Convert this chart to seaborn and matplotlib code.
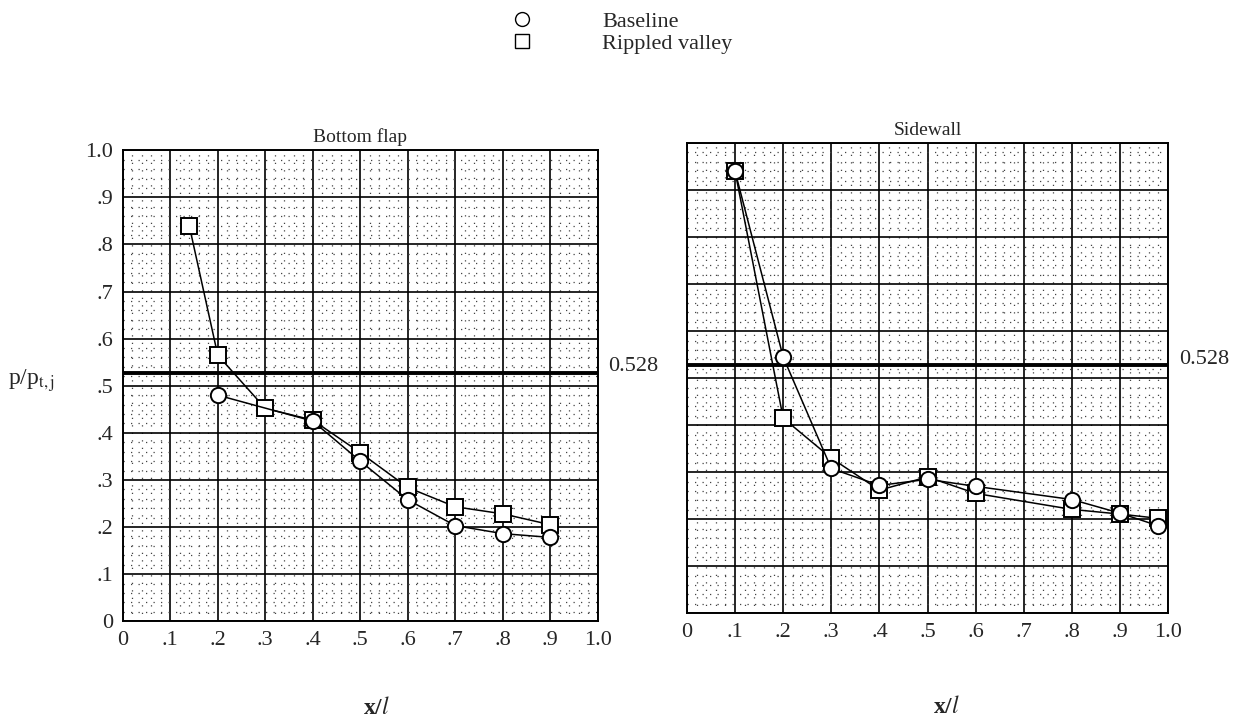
import pandas as pd
import matplotlib.pyplot as plt
from matplotlib.ticker import MultipleLocator
from matplotlib.lines import Line2D
import seaborn as sns

# Bottom flap data
flap_x_base = [0.2, 0.4, 0.5, 0.6, 0.7, 0.8, 0.9]
flap_base = [0.48, 0.425, 0.34, 0.258, 0.203, 0.186, 0.178]
flap_x_ripple = [0.14, 0.2, 0.3, 0.4, 0.5, 0.6, 0.7, 0.8, 0.9]
flap_ripple = [0.84, 0.565, 0.452, 0.427, 0.358, 0.284, 0.243, 0.228, 0.205]

# Sidewall data
side_x = [0.1, 0.2, 0.3, 0.4, 0.5, 0.6, 0.8, 0.9, 0.98]
side_base = [0.94, 0.545, 0.308, 0.272, 0.285, 0.27, 0.242, 0.213, 0.186]
side_ripple = [0.94, 0.415, 0.33, 0.262, 0.29, 0.255, 0.221, 0.211, 0.202]

sonic = 0.528
tick_vals = [0, 0.1, 0.2, 0.3, 0.4, 0.5, 0.6, 0.7, 0.8, 0.9, 1.0]
tick_text = ["0", ".1", ".2", ".3", ".4", ".5", ".6", ".7", ".8", ".9", "1.0"]

sns.set_style("white")
plt.rcParams['font.family'] = ['Liberation Serif', 'DejaVu Serif']
plt.rcParams['mathtext.fontset'] = 'stix'

fig = plt.figure(figsize=(12.4, 7.19), dpi=100)
ax1 = fig.add_axes([0.099, 0.136, 0.383, 0.655])
ax2 = fig.add_axes([0.554, 0.147, 0.388, 0.654])

mk = dict(markerfacecolor="white", markeredgecolor="black", markeredgewidth=1.4,
          markersize=11, color="black", linewidth=1.1)


def draw(ax, xb, yb, xr, yr, title, show_y):
    base = pd.DataFrame({"x": xb, "y": yb})
    rip = pd.DataFrame({"x": xr, "y": yr})
    sns.lineplot(data=base, x="x", y="y", ax=ax, marker="o", sort=False, zorder=4, **mk)
    sns.lineplot(data=rip, x="x", y="y", ax=ax, marker="s", sort=False, zorder=3, **mk)
    ax.axhline(sonic, color="black", linewidth=2.8, zorder=2)
    ax.text(1.022, sonic + 0.012, "0.528", transform=ax.get_yaxis_transform(),
            va="center", ha="left", fontsize=16)
    ax.set_xlim(0, 1.0)
    ax.set_ylim(0, 1.0)
    ax.xaxis.set_minor_locator(MultipleLocator(0.02))
    ax.yaxis.set_minor_locator(MultipleLocator(0.02))
    ax.grid(which="major", color="black", linewidth=1.2, zorder=1)
    ax.grid(which="minor", color="#444444", linewidth=0.9, linestyle=(0, (1, 5)))
    ax.set_axisbelow(True)
    ax.set_xticks(tick_vals)
    ax.set_xticklabels(tick_text)
    ax.set_yticks(tick_vals)
    if show_y:
        ax.set_yticklabels(tick_text)
    else:
        ax.set_yticklabels([])
    ax.tick_params(which="both", length=0, labelsize=16, pad=7)
    for s in ax.spines.values():
        s.set_color("black")
        s.set_linewidth(1.4)
    ax.set_title(title, fontsize=14, pad=6)
    ax.set_xlabel(r"x/$\mathit{l}$", fontsize=17, fontweight="bold")
    ax.set_ylabel("")


draw(ax1, flap_x_base, flap_base, flap_x_ripple, flap_ripple, "Bottom flap", True)
draw(ax2, side_x, side_base, side_x, side_ripple, "Sidewall", False)

ax1.xaxis.set_label_coords(0.535, -0.16)
ax2.xaxis.set_label_coords(0.54, -0.175)

ax1.set_ylabel(r"p/p$_{\mathrm{t,j}}$", fontsize=17, rotation=0, va="center")
ax1.yaxis.set_label_coords(-0.193, 0.51)

handles = [
    Line2D([], [], linestyle="none", marker="o", markerfacecolor="white",
           markeredgecolor="black", markersize=10),
    Line2D([], [], linestyle="none", marker="s", markerfacecolor="white",
           markeredgecolor="black", markersize=10),
]
fig.legend(handles, ["Baseline", "Rippled valley"], loc="upper left",
           bbox_to_anchor=(0.387, 1.012), frameon=False, fontsize=16,
           handletextpad=2.6, labelspacing=0.05)

plt.savefig("out.png", dpi=100)
